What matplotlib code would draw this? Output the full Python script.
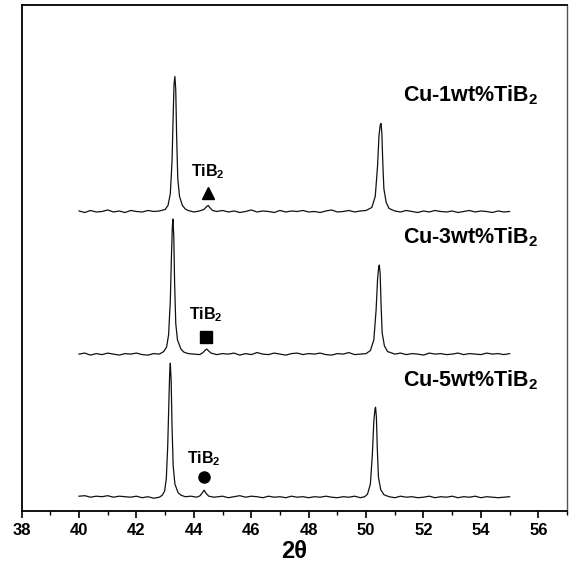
import numpy as np
import matplotlib
matplotlib.use("Agg")
import matplotlib.pyplot as plt
from matplotlib.ticker import MultipleLocator

plt.rcParams['font.family'] = ['Liberation Sans', 'DejaVu Sans']
plt.rcParams['mathtext.fontset'] = 'custom'
plt.rcParams['mathtext.bf'] = 'Liberation Sans:bold'

# XRD patterns (2-theta in degrees, intensity in arbitrary units)
tth_1wt = [40.0, 40.2, 40.4, 40.6, 40.8, 41.0, 41.2, 41.4, 41.6, 41.8, 42.0, 42.2, 42.4, 42.6, 42.8,
           43.0, 43.1, 43.18, 43.24, 43.28, 43.31, 43.34, 43.37, 43.40, 43.44, 43.5, 43.6, 43.7, 43.8,
           44.0, 44.2, 44.35, 44.45, 44.5, 44.55, 44.65, 44.8,
           45.0, 45.2, 45.4, 45.6, 45.8, 46.0, 46.2, 46.4, 46.6, 46.8, 47.0, 47.2, 47.4, 47.6, 47.8,
           48.0, 48.2, 48.4, 48.6, 48.8, 49.0, 49.2, 49.4, 49.6, 49.8, 50.0,
           50.2, 50.32, 50.4, 50.45, 50.49, 50.52, 50.55, 50.58, 50.62, 50.7, 50.8,
           51.0, 51.2, 51.4, 51.6, 51.8, 52.0, 52.2, 52.4, 52.6, 52.8, 53.0, 53.2, 53.4, 53.6, 53.8,
           54.0, 54.2, 54.4, 54.6, 54.8, 55.0]
cnt_1wt = [11, 8, 12, 9, 10, 13, 9, 11, 8, 12, 10, 9, 12, 10, 11,
           14, 22, 45, 110, 200, 262, 277, 250, 160, 75, 40, 22, 15, 12,
           9, 11, 14, 20, 22, 18, 12, 10,
           12, 9, 11, 8, 10, 13, 9, 11, 10, 8, 12, 9, 11, 10, 12,
           9, 10, 8, 11, 13, 9, 10, 12, 9, 11, 12,
           18, 40, 100, 160, 180, 184, 165, 110, 55, 28, 16,
           11, 9, 12, 10, 8, 11, 9, 12, 10, 9, 11, 8, 10, 12, 9,
           11, 10, 8, 11, 9, 10]

tth_3wt = [40.0, 40.2, 40.4, 40.6, 40.8, 41.0, 41.2, 41.4, 41.6, 41.8, 42.0, 42.2, 42.4, 42.6, 42.8,
           42.95, 43.05, 43.12, 43.18, 43.22, 43.25, 43.27, 43.30, 43.33, 43.37, 43.43, 43.55, 43.65, 43.8,
           44.0, 44.2, 44.32, 44.4, 44.45, 44.5, 44.6, 44.8,
           45.0, 45.2, 45.4, 45.6, 45.8, 46.0, 46.2, 46.4, 46.6, 46.8, 47.0, 47.2, 47.4, 47.6, 47.8,
           48.0, 48.2, 48.4, 48.6, 48.8, 49.0, 49.2, 49.4, 49.6, 49.8, 50.0,
           50.15, 50.27, 50.35, 50.4, 50.44, 50.46, 50.49, 50.52, 50.56, 50.64, 50.75,
           51.0, 51.2, 51.4, 51.6, 51.8, 52.0, 52.2, 52.4, 52.6, 52.8, 53.0, 53.2, 53.4, 53.6, 53.8,
           54.0, 54.2, 54.4, 54.6, 54.8, 55.0]
cnt_3wt = [10, 12, 8, 11, 9, 12, 10, 8, 11, 10, 12, 9, 8, 11, 10,
           15, 24, 48, 115, 205, 260, 277, 245, 150, 70, 38, 20, 14, 11,
           10, 9, 13, 18, 20, 17, 12, 9,
           11, 10, 12, 8, 11, 9, 13, 10, 9, 12, 10, 8, 11, 12, 9,
           11, 10, 12, 9, 8, 11, 10, 13, 9, 10, 11,
           17, 38, 98, 158, 182, 186, 170, 112, 52, 26, 15,
           10, 12, 9, 11, 10, 8, 12, 10, 11, 9, 10, 12, 9, 11, 10,
           9, 12, 10, 11, 9, 11]

tth_5wt = [40.0, 40.2, 40.4, 40.6, 40.8, 41.0, 41.2, 41.4, 41.6, 41.8, 42.0, 42.2, 42.4, 42.6, 42.8,
           42.9, 42.98, 43.04, 43.09, 43.13, 43.16, 43.18, 43.21, 43.24, 43.28, 43.34, 43.45, 43.55, 43.7,
           43.9, 44.1, 44.22, 44.3, 44.36, 44.42, 44.52, 44.7,
           45.0, 45.2, 45.4, 45.6, 45.8, 46.0, 46.2, 46.4, 46.6, 46.8, 47.0, 47.2, 47.4, 47.6, 47.8,
           48.0, 48.2, 48.4, 48.6, 48.8, 49.0, 49.2, 49.4, 49.6, 49.8, 49.95,
           50.05, 50.15, 50.22, 50.27, 50.31, 50.33, 50.36, 50.39, 50.43, 50.51, 50.62,
           50.8, 51.0, 51.2, 51.4, 51.6, 51.8, 52.0, 52.2, 52.4, 52.6, 52.8, 53.0, 53.2, 53.4, 53.6,
           53.8, 54.0, 54.2, 54.4, 54.6, 55.0]
cnt_5wt = [12, 13, 10, 12, 11, 13, 10, 12, 11, 10, 12, 9, 11, 8, 10,
           14, 22, 46, 112, 198, 258, 275, 240, 150, 72, 36, 19, 14, 11,
           12, 10, 13, 19, 24, 18, 12, 10,
           12, 9, 11, 13, 10, 12, 11, 9, 12, 10, 11, 9, 12, 10, 11,
           9, 11, 10, 12, 10, 9, 11, 10, 12, 9, 11,
           16, 36, 96, 160, 184, 188, 168, 108, 50, 25, 15,
           11, 9, 12, 10, 11, 9, 10, 12, 9, 11, 10, 12, 9, 11, 10,
           12, 9, 11, 10, 9, 11]

sample_labels = ['Cu-1wt%TiB$_{\\mathbf{2}}$', 'Cu-3wt%TiB$_{\\mathbf{2}}$', 'Cu-5wt%TiB$_{\\mathbf{2}}$']
tib2_pos = [44.5, 44.43, 44.35]
tib2_markers = ['^', 's', 'o']

# stacking / placement (layout only)
offsets = [582, 300, 17]
label_y = [822, 541, 258]
mark_y = [628, 343, 67]
text_y = [671, 388, 104]
marker_sizes = [9, 8, 8]

fig = plt.figure(figsize=(5.69, 5.74), dpi=100)
ax = fig.add_axes([0.038, 0.110, 0.9585, 0.881])

traces = [(tth_1wt, cnt_1wt), (tth_3wt, cnt_3wt), (tth_5wt, cnt_5wt)]
for i, (tth, cnt) in enumerate(traces):
    ax.plot(tth, np.array(cnt) + offsets[i], color='#111111', lw=0.9)
    ax.text(56.0, label_y[i], sample_labels[i], ha='right', va='center',
            fontsize=15.5, fontweight='bold')
    ax.plot(tib2_pos[i], mark_y[i], marker=tib2_markers[i], color='black',
            markersize=marker_sizes[i], ls='none')
    ax.text(tib2_pos[i], text_y[i], 'TiB$_{\\mathbf{2}}$', ha='center', va='center',
            fontsize=11.5, fontweight='bold')

ax.set_xlim(38, 57)
ax.set_ylim(0, 1000)
ax.xaxis.set_major_locator(MultipleLocator(2))
ax.xaxis.set_minor_locator(MultipleLocator(1))
ax.tick_params(axis='x', which='major', direction='out', length=5, width=1.2,
               labelsize=12, pad=4)
ax.tick_params(axis='x', which='minor', direction='out', length=3, width=1.0)
for lab in ax.get_xticklabels():
    lab.set_fontweight('bold')
ax.set_yticks([])
for side in ['left', 'bottom', 'top']:
    ax.spines[side].set_linewidth(1.3)
ax.spines['right'].set_linewidth(1.0)
ax.spines['right'].set_color('#555555')

ax.set_xlabel('2θ', fontsize=17, fontweight='bold', labelpad=1)

fig.savefig('out.png', dpi=100)
